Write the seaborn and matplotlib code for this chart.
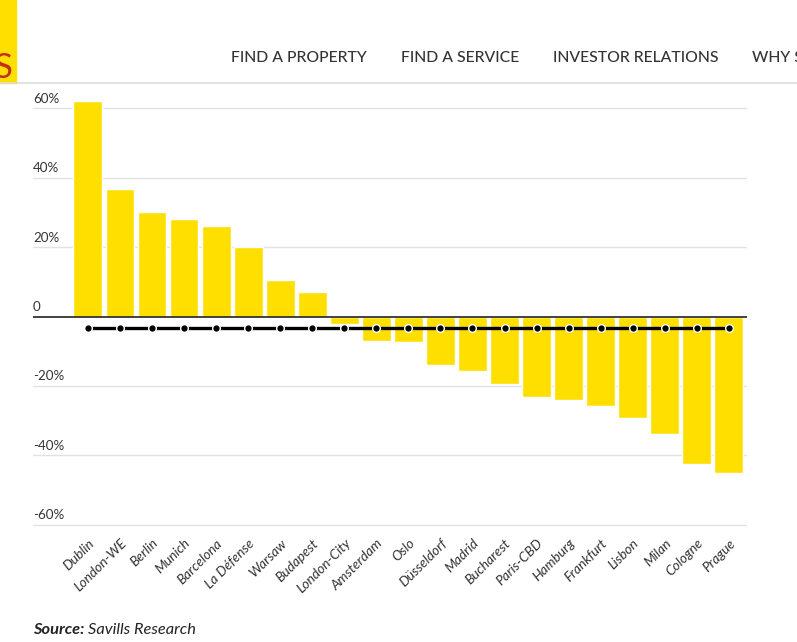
import matplotlib
matplotlib.use("Agg")
import matplotlib.pyplot as plt
import matplotlib.transforms as mtrans
import seaborn as sns
import pandas as pd

## data (rental growth, %)
cities = ["Dublin", "London-WE", "Berlin", "Munich", "Barcelona", "La Défense",
          "Warsaw", "Budapest", "London-City", "Amsterdam", "Oslo", "Düsseldorf",
          "Madrid", "Bucharest", "Paris-CBD", "Hamburg", "Frankfurt", "Lisbon",
          "Milan", "Cologne", "Prague"]
growth = [62.0, 36.6, 30.0, 28.2, 26.0, 19.9, 10.4, 7.0, -2.1, -7.1, -7.4, -14.0,
          -15.7, -19.5, -23.2, -24.1, -25.8, -29.2, -33.8, -42.4, -45.0]
average = [-3.4, -3.4, -3.4, -3.4, -3.4, -3.4, -3.4, -3.4, -3.4, -3.4, -3.4, -3.4,
           -3.4, -3.4, -3.4, -3.4, -3.4, -3.4, -3.4, -3.4, -3.4]
ytick_vals = [60, 40, 20, 0, -20, -40, -60]
ytick_text = ["60%", "40%", "20%", "0", "-20%", "-40%", "-60%"]
nav_items = ["FIND A PROPERTY", "FIND A SERVICE", "INVESTOR RELATIONS", "WHY SAVILLS"]

df = pd.DataFrame({"city": cities, "growth": growth, "avg": average})

sns.set_style("white")
plt.rcParams['font.family'] = ['Lato', 'DejaVu Sans']

W, H = 797, 642
fig = plt.figure(figsize=(W / 100, H / 100), dpi=100)
fig.patch.set_facecolor("white")

# page header: yellow logo block, nav links, divider
fig.patches.append(plt.Rectangle((0, 1 - 83 / H), 16 / W, 83 / H, transform=fig.transFigure,
                                 color="#FFDF00", zorder=0))
fig.text(13 / W, 1 - 78 / H, "S", color="#C4301C", fontsize=25, va="baseline", ha="right")
nav_x = [231, 401, 553, 752]
for nx, label in zip(nav_x, nav_items):
    fig.text(nx / W, 1 - 58 / H, label, fontsize=11.3, color="#333333", va="center",
             ha="left", fontweight="medium")
fig.add_artist(plt.Line2D([0, 1], [1 - 83 / H, 1 - 83 / H], color="#dddddd", lw=1.2,
                          transform=fig.transFigure))

# chart area
ax_l, ax_r, ax_t, ax_b = 33, 747, 95, 530
ax = fig.add_axes([ax_l / W, 1 - ax_b / H, (ax_r - ax_l) / W, (ax_b - ax_t) / H])

sns.barplot(data=df, x="city", y="growth", color="#FFDF00", saturation=1, width=0.9,
            ax=ax, zorder=2)
sns.pointplot(data=df, x="city", y="avg", color="black", markers="o", linestyles="-",
              ax=ax, markersize=5.5, markeredgecolor="white", markeredgewidth=1,
              linewidth=2.4, zorder=4)

ax.set_xlim(-1.713, 20.566)
ax.set_ylim((316.5 - ax_b) / 3.47, (316.5 - ax_t) / 3.47)
for s in ax.spines.values():
    s.set_visible(False)

ax.set_yticks(ytick_vals)
ax.set_yticklabels([])
ax.tick_params(axis="y", length=0)
for v in ytick_vals:
    if v == 0:
        ax.axhline(0, color="#333333", lw=1.3, zorder=3)
    else:
        ax.axhline(v, color="#e2e2e2", lw=1, zorder=1)
trans = mtrans.blended_transform_factory(ax.transAxes, ax.transData)
for v, t in zip(ytick_vals, ytick_text):
    ax.text(0, v + 1.0, t, transform=trans, ha="left", va="bottom", fontsize=9.6,
            color="#333333")

ax.set_xlabel("")
ax.set_ylabel("")
ax.tick_params(axis="x", length=0, pad=5)
for lab in ax.get_xticklabels():
    lab.set_rotation(45)
    lab.set_ha("right")
    lab.set_rotation_mode("anchor")
    lab.set_fontsize(9.9)
    lab.set_fontstyle("italic")
    lab.set_color("#333333")

# source note
src = fig.text(33 / W, 1 - 630 / H, "Source:", fontsize=11.8, fontweight="bold",
               fontstyle="italic", color="#222222", va="center", ha="left")
fig.canvas.draw()
bb = src.get_window_extent()
fig.text((bb.x1 + 4) / W, 1 - 630 / H, "Savills Research", fontsize=11.8, fontstyle="italic",
         color="#222222", va="center", ha="left")

fig.savefig("out.png", dpi=100)
